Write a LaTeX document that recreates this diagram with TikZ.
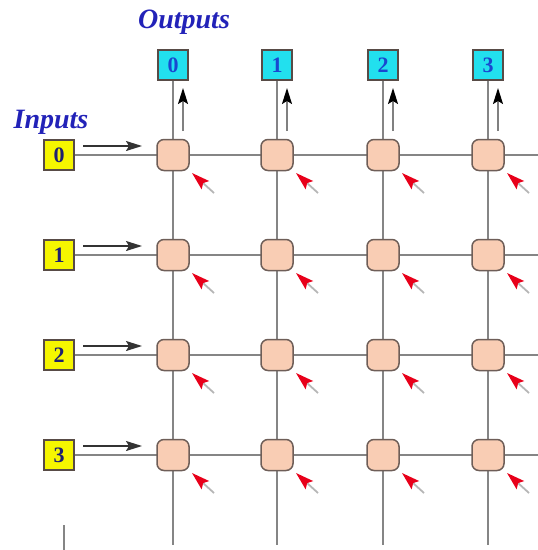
\documentclass[tikz,border=0pt]{standalone}
\usepackage{fontspec}
\setmainfont{Liberation Serif}
\usetikzlibrary{arrows.meta}
\definecolor{wire}{HTML}{858585}
\definecolor{xfill}{HTML}{F9CDB4}
\definecolor{xedge}{HTML}{6E5E58}
\definecolor{outfill}{HTML}{22E0EE}
\definecolor{infill}{HTML}{F6F600}
\definecolor{labelblue}{HTML}{2222B8}
\definecolor{outdigit}{HTML}{1848D0}
\definecolor{indigit}{HTML}{1E2070}
\definecolor{ctrlred}{HTML}{E8001A}
\tikzset{
  x=1pt, y=-1pt,
  xpoint/.style={draw=xedge, line width=1.5pt, fill=xfill, rounded corners=7pt,
    minimum width=32pt, minimum height=31pt, inner sep=0pt},
  outbox/.style={draw=xedge!80!black, line width=1.2pt, fill=outfill, minimum size=30pt,
    inner sep=0pt, font=\fontsize{22}{22}\selectfont\bfseries, text=outdigit},
  inbox/.style={draw=xedge!80!black, line width=1.2pt, fill=infill, minimum size=30pt,
    inner sep=0pt, font=\fontsize{22}{22}\selectfont\bfseries, text=indigit},
  wireline/.style={draw=wire, line width=2.8pt},
  flow/.style={line width=1.6pt, draw=black!80, -{Stealth[length=16pt,width=10pt,inset=3pt]}},
  upflow/.style={line width=1.6pt, draw=black!50, -{Stealth[length=16pt,width=10pt,inset=3pt,color=black]}},
  ctrl/.style={line width=1.8pt, draw=wire!60, -{Stealth[length=18pt,width=11pt,inset=3pt,color=ctrlred]}},
  heading/.style={font=\fontsize{28}{28}\selectfont\bfseries\itshape, text=labelblue}
}
\begin{document}
\begin{tikzpicture}
\useasboundingbox (0,0) rectangle (538,550);

% headings
\node[heading] (outlabel) at (184,22) {Outputs};
\node[heading] (inlabel) at (51,122) {Inputs};

% port boxes
\foreach \i/\x in {0/173,1/277,2/383,3/488} {
  \node[outbox] (o\i) at (\x,65) {\i};
}
\foreach \j/\y in {0/155,1/255,2/355,3/455} {
  \node[inbox] (in\j) at (59,\y) {\j};
  \coordinate (re\j) at (538,\y);
}
\foreach \i/\x in {0/173,1/277,2/383,3/488} {
  \coordinate (be\i) at (\x,545);
}

% wires
\foreach \j in {0,...,3} { \draw[wireline] (in\j.east) -- (re\j); }
\foreach \i in {0,...,3} { \draw[wireline] (o\i.south) -- (be\i); }
\coordinate (stubtop) at (64,525);
\coordinate (stubbot) at (64,550);
\draw[wire, line width=1.6pt] (stubtop) -- (stubbot);

% crosspoints
\foreach \i/\x in {0/173,1/277,2/383,3/488} {
  \foreach \j/\y in {0/155,1/255,2/355,3/455} {
    \node[xpoint] (c\i\j) at (\x,\y) {};
    \coordinate (ct\i\j) at (\x+41,\y+38);
    \coordinate (ch\i\j) at (\x+19,\y+18);
    \draw[ctrl] (ct\i\j) -- (ch\i\j);
  }
}

% data flow arrows
\foreach \j/\y in {0/155,1/255,2/355,3/455} {
  \coordinate (fa\j) at (83,\y-9);
  \coordinate (fb\j) at (142,\y-9);
  \draw[flow] (fa\j) -- (fb\j);
}
\foreach \i/\x in {0/173,1/277,2/383,3/488} {
  \coordinate (ua\i) at (\x+10,131);
  \coordinate (ub\i) at (\x+10,88);
  \draw[upflow] (ua\i) -- (ub\i);
}
\end{tikzpicture}
\end{document}
